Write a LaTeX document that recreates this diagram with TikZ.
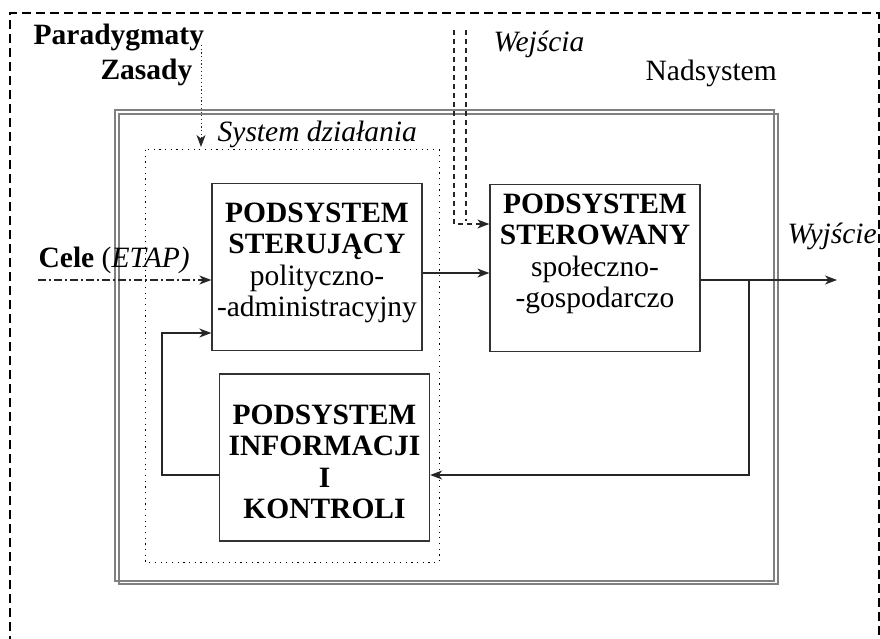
\documentclass[tikz,border=0pt]{standalone}
\usepackage{fontspec}
\setmainfont{Liberation Serif}
\usetikzlibrary{arrows.meta}

\begin{document}
\begin{tikzpicture}[x=1pt, y=-1pt, line width=1.3pt,
    blok/.style={draw=black!80, minimum width=210pt, minimum height=167pt, inner sep=0pt},
    opis/.style={align=center, inner sep=0pt, font=\fontsize{29.5}{31.5}\selectfont},
    tekst/.style={inner sep=0pt, font=\fontsize{29.5}{31.5}\selectfont},
    strzalka/.style={-{Stealth[length=12pt,width=9pt,inset=3.5pt]}, draw=black!85},
    ramka/.style={draw=black!50, line width=1.5pt},
    kropki/.style={line width=1pt, dash pattern=on 1.2pt off 4.5pt}
]
\useasboundingbox (0,0) rectangle (880,639);

% --- Nadsystem (ramka przerywana) ---
\draw[dash pattern=on 9pt off 5pt] (10,645) -- (10,13) -- (879,13) -- (879,645);

% --- podwojna ramka ---
\draw[ramka] (115,110) rectangle (774,581);
\draw[ramka] (119,114) rectangle (778,584);

% --- System dzialania (kropki) ---
\draw[kropki] (145,150) rectangle (439,562);

% --- bloki ---
\node[blok] (ster)   at (317,267)   {};
\node[blok] (sterow) at (595,268)   {};
\node[blok] (info)   at (324.5,457.5) {};

\node[opis] (sterTxt)   at (317,263) {\textbf{PODSYSTEM}\\ \textbf{STERUJĄCY}\\ polityczno-\\ -administracyjny};
\node[opis] (sterowTxt) at (595,254) {\textbf{PODSYSTEM}\\ \textbf{STEROWANY}\\ społeczno-\\ -gospodarczo};
\node[opis] (infoTxt)   at (324.5,462) {\textbf{PODSYSTEM}\\ \textbf{INFORMACJI}\\ \textbf{I}\\ \textbf{KONTROLI}};

% --- napisy ---
\node[tekst, anchor=base west] (parad)   at (33,45)   {\textbf{Paradygmaty}};
\node[tekst, anchor=base east] (zasady)  at (193,80)  {\textbf{Zasady}};
\node[tekst, anchor=base west] (system)  at (217,142) {\textit{System działania}};
\node[tekst, anchor=base west] (wejscia) at (493,52)  {\textit{Wejścia}};
\node[tekst, anchor=base west] (nadsys)  at (645,81)  {Nadsystem};
\node[tekst, anchor=base west] (wyjscie) at (787,243) {\textit{Wyjście}};
\node[tekst, anchor=base west] (cele)    at (38,267)  {\textbf{Cele} (\textit{ETAP)}};

% --- Paradygmaty -> System ---
\coordinate (sysWe) at (201,147);
\draw[strzalka, kropki, dash pattern=on 1.2pt off 2.5pt] (sysWe |- parad.base) -- (sysWe);

% --- Cele ---
\coordinate (celeStart) at (38,280);
\draw[strzalka, dash pattern=on 8pt off 3pt on 2pt off 3pt] (celeStart) -- (celeStart -| ster.west);

% --- Wejscia ---
\coordinate (wejL) at (454,30);
\coordinate (wejP) at (466,30);
\draw[dash pattern=on 5pt off 4pt, draw=black!85] (wejP) -- ++(0,191);
\draw[strzalka, dash pattern=on 5pt off 4pt] (wejL) |- ([yshift=44pt]sterow.west);

% --- polaczenia ---
\draw[strzalka] ([yshift=-6pt]ster.east) -- ([yshift=-6pt]ster.east -| sterow.west);
\coordinate (wyj)  at (837,280);
\coordinate (rozg) at (749,280);
\draw[strzalka] (wyj -| sterow.east) -- (wyj);
\draw[strzalka] (rozg) |- ([yshift=-17.5pt]info.east);
\coordinate (petla) at (162,475);
\draw[strzalka] ([yshift=-17.5pt]info.west) -- (petla) |- ([yshift=-66pt]ster.west);

\end{tikzpicture}
\end{document}
